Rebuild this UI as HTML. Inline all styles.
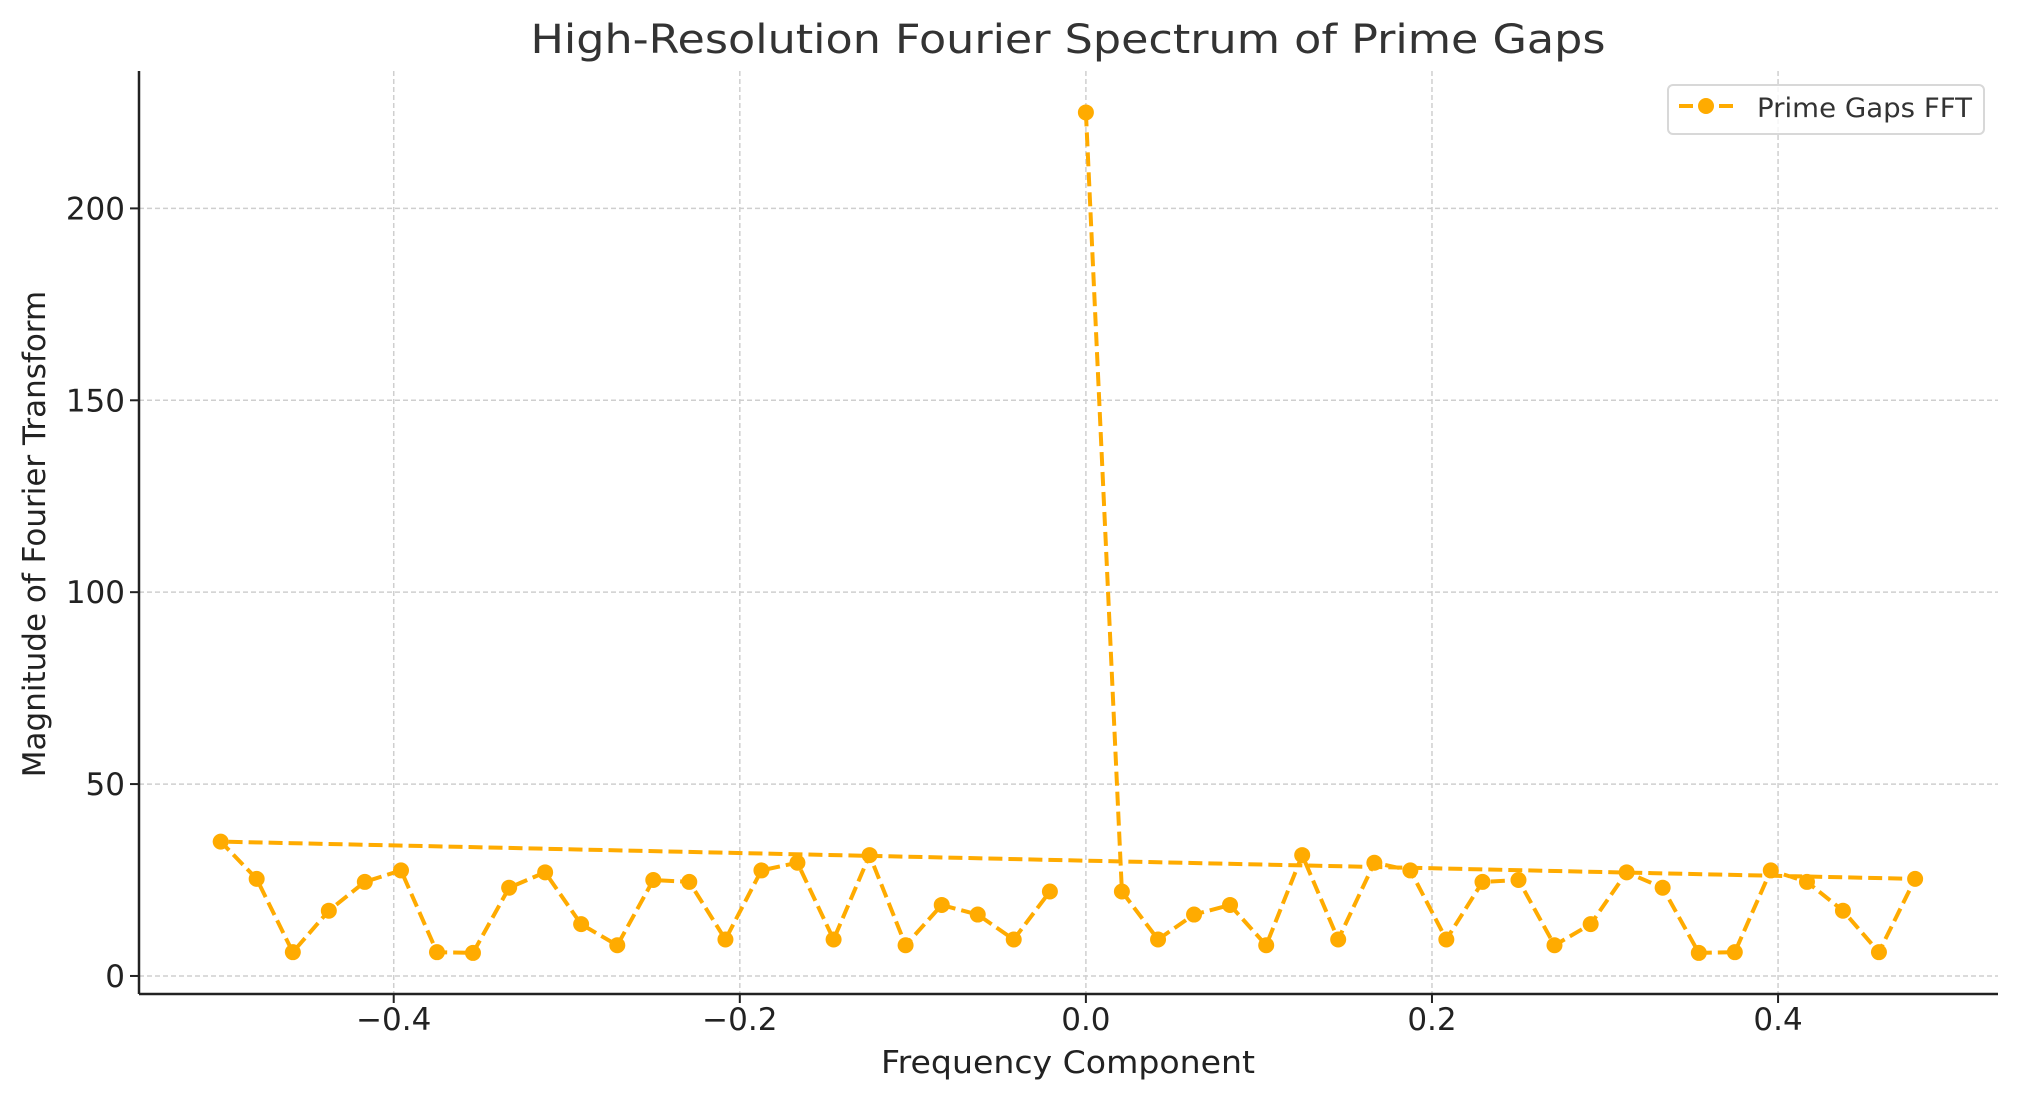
<!DOCTYPE html>
<html><head><meta charset="utf-8"><style>html,body{margin:0;padding:0;background:#fff}svg{display:block}</style></head>
<body>
<svg id="chart" width="2017" height="1101" xmlns="http://www.w3.org/2000/svg" font-family="'DejaVu Sans','Liberation Sans',sans-serif">
<rect width="2017" height="1101" fill="#fff"/>
<text x="1068" y="53" text-anchor="middle" font-size="40" fill="#333" textLength="1075" lengthAdjust="spacingAndGlyphs">High-Resolution Fourier Spectrum of Prime Gaps</text>
<g id="grid"></g>
<g id="ticks"></g>
<g id="series"></g>
<line x1="139" y1="994" x2="1998" y2="994" stroke="#222" stroke-width="2.5"/>
<line x1="139" y1="71" x2="139" y2="994" stroke="#222" stroke-width="2.5"/>
<text x="1068" y="1073" text-anchor="middle" font-size="31" fill="#222" textLength="374" lengthAdjust="spacingAndGlyphs">Frequency Component</text>
<text transform="translate(45,534) rotate(-90)" text-anchor="middle" font-size="31" fill="#222">Magnitude of Fourier Transform</text>
<g>
<rect x="1668" y="85" width="316" height="49" rx="5" fill="#fff" fill-opacity="0.8" stroke="#d8d8d8" stroke-width="2"/>
<line x1="1679" y1="106" x2="1733" y2="106" stroke="#ffab00" stroke-width="4" stroke-dasharray="14,6"/>
<circle cx="1706" cy="106" r="8" fill="#ffab00"/>
<text x="1757" y="117" font-size="27" fill="#333" textLength="215" lengthAdjust="spacingAndGlyphs">Prime Gaps FFT</text>
</g>
</svg>
<script>
const freqs = [0,0.0208,0.0417,0.0625,0.0833,0.1042,0.125,0.1458,0.1667,0.1875,0.2083,0.2292,0.25,0.2708,0.2917,0.3125,0.3333,0.3542,0.375,0.3958,0.4167,0.4375,0.4583,0.4792,
-0.5,-0.4792,-0.4583,-0.4375,-0.4167,-0.3958,-0.375,-0.3542,-0.3333,-0.3125,-0.2917,-0.2708,-0.25,-0.2292,-0.2083,-0.1875,-0.1667,-0.1458,-0.125,-0.1042,-0.0833,-0.0625,-0.0417,-0.0208];
const magnitudes = [225,22,9.5,16,18.5,8,31.5,9.5,29.5,27.5,9.5,24.5,25,8,13.5,27,23,6,6.2,27.5,24.5,17,6.2,25.3,
35,25.3,6.2,17,24.5,27.5,6.2,6,23,27,13.5,8,25,24.5,9.5,27.5,29.5,9.5,31.5,8,18.5,16,9.5,22];
const xTicks = [-0.4,-0.2,0.0,0.2,0.4];
const xTickLabels = ["\u22120.4","\u22120.2","0.0","0.2","0.4"];
const yTicks = [0,50,100,150,200];
const yTickLabels = ["0","50","100","150","200"];
const L=139,R=1998,T=71,B=994;
const xMin=-0.5472,xMax=0.5271,yMin=-4.7,yMax=235.8;
function sx(v){return L+(v-xMin)/(xMax-xMin)*(R-L);}
function sy(v){return B-(v-yMin)/(yMax-yMin)*(B-T);}
const NS="http://www.w3.org/2000/svg";
function mk(tag,attrs,parent){const e=document.createElementNS(NS,tag);for(const k in attrs)e.setAttribute(k,attrs[k]);parent.appendChild(e);return e;}
const grid=document.getElementById('grid'),ticks=document.getElementById('ticks'),series=document.getElementById('series');
xTicks.forEach((v,i)=>{
  const g=mk('line',{x1:sx(v),x2:sx(v),y1:T,y2:B,stroke:'#cfcfcf','stroke-width':1.5,'stroke-dasharray':'5,3'},grid);
  
  
  const t=mk('line',{x1:sx(v),x2:sx(v),y1:B,y2:B+9,stroke:'#222','stroke-width':2},ticks);
  
  
  const l=mk('text',{x:sx(v),y:B+36,'text-anchor':'middle','font-size':31,fill:'#222'},ticks);
  l.textContent=xTickLabels[i];
  
  
});
yTicks.forEach((v,i)=>{
  const g=mk('line',{x1:L,x2:R,y1:sy(v),y2:sy(v),stroke:'#cfcfcf','stroke-width':1.5,'stroke-dasharray':'5,3'},grid);
  
  
  const t=mk('line',{x1:L-9,x2:L,y1:sy(v),y2:sy(v),stroke:'#222','stroke-width':2},ticks);
  
  
  const l=mk('text',{x:L-14,y:sy(v)+11,'text-anchor':'end','font-size':31,fill:'#222'},ticks);
  l.textContent=yTickLabels[i];
  
  
});
const pts=freqs.map((f,i)=>sx(f).toFixed(1)+','+sy(magnitudes[i]).toFixed(1)).join(' ');
const pl=mk('polyline',{points:pts,fill:'none',stroke:'#ffab00','stroke-width':4,'stroke-dasharray':'14,6','stroke-linejoin':'round'},series);


freqs.forEach((f,i)=>{
  const c=mk('circle',{cx:sx(f),cy:sy(magnitudes[i]),r:8,fill:'#ffab00'},series);
  
  
});
</script>
</body></html>
